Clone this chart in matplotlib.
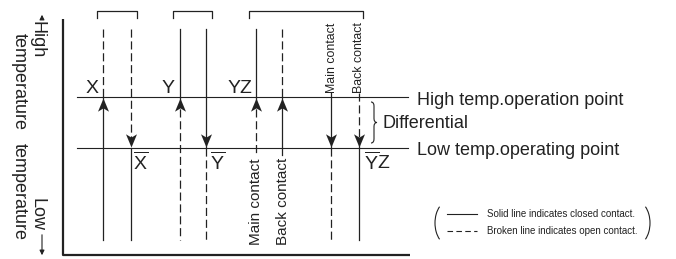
import numpy as np
import matplotlib.pyplot as plt
from matplotlib.path import Path
from matplotlib.patches import PathPatch, Arc

plt.rcParams['font.family'] = ['Liberation Sans', 'DejaVu Sans']
plt.rcParams['mathtext.fontset'] = 'custom'
plt.rcParams['mathtext.rm'] = 'Liberation Sans'

W, H = 676, 259
INK = '#222222'

# operating levels (pixel rows)
high_y = 97
low_y = 148

# contact lines
contact_x = [103, 131, 180, 206, 256, 282, 331, 359]
upper_dashed = [True, True, False, False, False, True, False, True]
arrow_dir = ['up', 'down', 'up', 'down', 'up', 'up', 'down', 'down']
line_top = [29, 29, 29, 29, 29, 29, 93, 93]
line_bottom = [240, 240, 240, 240, 155, 155, 240, 240]

# brackets over the contact pairs
bracket_left = [97, 173, 249]
bracket_right = [137, 212, 363]

# symbol labels
top_labels = ['X', 'Y', 'YZ']
top_label_x = [92, 168, 240]
bottom_labels = [r'$\overline{\mathrm{X}}$', r'$\overline{\mathrm{Y}}$',
                 r'$\overline{\mathrm{Y}}\mathrm{Z}$']
bottom_label_x = [141, 218, 377]

# rotated contact names
name_text = ['Main contact', 'Back contact', 'Main contact', 'Back contact']
name_x = [256, 283, 332, 359]
name_at_top = [False, False, True, True]

DASH = (0, (6.5, 3))

# arrow marker: tip at origin
up_head = Path([(0, 0), (-0.5, -1.2), (0, -0.9), (0.5, -1.2), (0, 0)],
               [Path.MOVETO, Path.LINETO, Path.LINETO, Path.LINETO, Path.CLOSEPOLY])
down_head = Path([(0, 0), (-0.5, 1.2), (0, 0.9), (0.5, 1.2), (0, 0)],
                 [Path.MOVETO, Path.LINETO, Path.LINETO, Path.LINETO, Path.CLOSEPOLY])

fig = plt.figure(figsize=(W / 100, H / 100), dpi=100)
ax = fig.add_axes([0, 0, 1, 1])
ax.set_xlim(0, W)
ax.set_ylim(H, 0)
ax.axis('off')

# frame
ax.plot([63, 63, 410], [19, 255, 255], color=INK, lw=1.6, solid_capstyle='butt')

# level lines
ax.plot([77, 408], [high_y, high_y], color=INK, lw=0.8)
ax.plot([77, 408], [low_y, low_y], color=INK, lw=0.8)

for x, dashed, d, t, b in zip(contact_x, upper_dashed, arrow_dir, line_top, line_bottom):
    sy = high_y if d == 'up' else low_y
    ax.plot([x, x], [t, sy], color=INK, lw=0.9, linestyle=DASH if dashed else '-')
    ax.plot([x, x], [sy, b], color=INK, lw=0.9, linestyle='-' if dashed else DASH)
    ax.plot([x], [sy + (1 if d == 'up' else -1)], marker=up_head if d == 'up' else down_head,
            markersize=19, color=INK, markeredgewidth=0)

for l, r in zip(bracket_left, bracket_right):
    ax.plot([l, l, r, r], [18, 11, 11, 18], color=INK, lw=0.9)

for s, x in zip(top_labels, top_label_x):
    ax.text(x, 93, s, fontsize=14, color=INK, ha='center', va='baseline')
for s, x in zip(bottom_labels, bottom_label_x):
    ax.text(x, 170, s, fontsize=14, color=INK, ha='center', va='baseline')

for s, x, top in zip(name_text, name_x, name_at_top):
    if top:
        ax.text(x, 93, s, rotation=90, fontsize=8.9, color=INK,
                ha='center', va='bottom')
    else:
        ax.text(x, 245, s, rotation=90, fontsize=11, color=INK,
                ha='center', va='bottom')

# right side captions
ax.text(417, 105, 'High temp.operation point', fontsize=13, color=INK, va='baseline')
ax.text(417, 155, 'Low temp.operating point', fontsize=13, color=INK, va='baseline')
ax.text(382, 128, 'Differential', fontsize=13, color=INK, va='baseline')

# brace for the differential
bx, by0, by1, bw = 371, 102, 143, 6
bm = (by0 + by1) / 2
verts = [(bx, by0), (bx + bw / 2, by0), (bx + bw / 2, by0 + 4),
         (bx + bw / 2, bm - 4), (bx + bw / 2, bm), (bx + bw, bm),
         (bx + bw / 2, bm), (bx + bw / 2, bm + 4),
         (bx + bw / 2, by1 - 4), (bx + bw / 2, by1), (bx, by1)]
codes = [Path.MOVETO, Path.CURVE3, Path.CURVE3, Path.LINETO, Path.CURVE3, Path.CURVE3,
         Path.CURVE3, Path.CURVE3, Path.LINETO, Path.CURVE3, Path.CURVE3]
ax.add_patch(PathPatch(Path(verts, codes), fill=False, color=INK, lw=0.8))

# temperature axis labels
ax.text(37, 21, 'High', rotation=270, fontsize=13, color=INK, ha='center', va='top')
ax.text(19, 33, 'temperature', rotation=270, fontsize=13, color=INK, ha='center', va='top')
ax.text(19, 240, 'temperature', rotation=270, fontsize=13, color=INK, ha='center', va='bottom')
ax.text(37, 231, 'Low', rotation=270, fontsize=13, color=INK, ha='center', va='bottom')
ax.annotate('', xy=(42, 12), xytext=(42, 21),
            arrowprops=dict(arrowstyle='-|>', color=INK, lw=0.8, mutation_scale=7))
ax.annotate('', xy=(42, 258), xytext=(42, 232),
            arrowprops=dict(arrowstyle='-|>', color=INK, lw=0.8, mutation_scale=7))

# legend
ax.add_patch(Arc((449, 223), 28, 44, theta1=120, theta2=240, color=INK, lw=0.8))
ax.add_patch(Arc((636, 223), 28, 44, theta1=-60, theta2=60, color=INK, lw=0.8))
ax.plot([447, 477], [214, 214], color=INK, lw=0.8)
ax.plot([447, 477], [231, 231], color=INK, lw=0.8, linestyle=(0, (5, 3)))
ax.text(487, 214, 'Solid line indicates closed contact.', fontsize=7, color=INK, va='center')
ax.text(487, 231, 'Broken line indicates open contact.', fontsize=7, color=INK, va='center')

fig.savefig('out.png', dpi=100)
